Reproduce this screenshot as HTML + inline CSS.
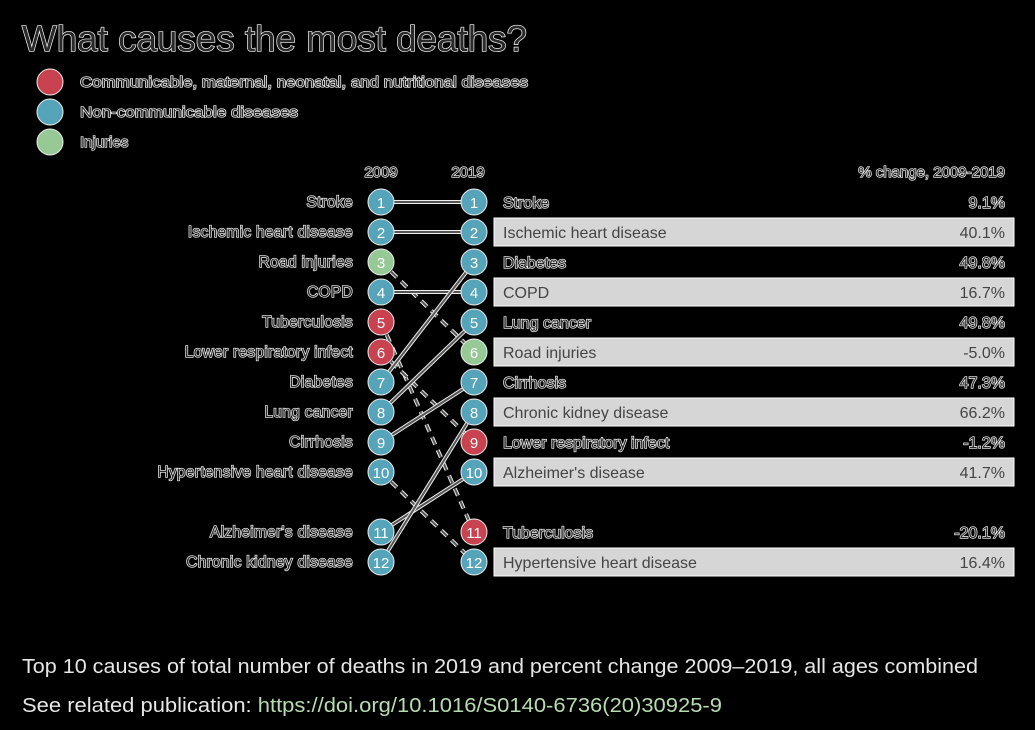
<!DOCTYPE html>
<html><head><meta charset="utf-8"><style>
html,body{margin:0;padding:0;background:#000;width:1035px;height:730px;overflow:hidden}
svg{display:block;font-family:"Liberation Sans",sans-serif}
.o{fill:#2a2a2a;stroke:#fff;stroke-width:1.3px;paint-order:stroke}
</style></head><body>
<svg id="c" width="1035" height="730" viewBox="0 0 1035 730">
<text class="o" x="22" y="51" font-size="36" stroke-width="1.6" textLength="505" lengthAdjust="spacingAndGlyphs">What causes the most deaths?</text>
<g>
<circle cx="50" cy="82" r="13" fill="#c8434f" stroke="#eee"/>
<text class="o" x="80" y="87" font-size="15" textLength="448" lengthAdjust="spacingAndGlyphs">Communicable, maternal, neonatal, and nutritional diseases</text>
<circle cx="50" cy="112" r="13" fill="#56a4ba" stroke="#eee"/>
<text class="o" x="80" y="117" font-size="15" textLength="218" lengthAdjust="spacingAndGlyphs">Non-communicable diseases</text>
<circle cx="50" cy="142" r="13" fill="#97c996" stroke="#eee"/>
<text class="o" x="80" y="147" font-size="15">Injuries</text>
</g>
<text class="o" x="381" y="177" font-size="15" text-anchor="middle">2009</text>
<text class="o" x="468" y="177" font-size="15" text-anchor="middle">2019</text>
<text class="o" x="1005" y="177" font-size="15" text-anchor="end">% change, 2009-2019</text>
<g id="marks"></g>
<text x="22" y="673" font-size="20" fill="#e6e6e6" textLength="956" lengthAdjust="spacingAndGlyphs">Top 10 causes of total number of deaths in 2019 and percent change 2009–2019, all ages combined</text>
<text x="22" y="712" font-size="20" fill="#e6e6e6" textLength="700" lengthAdjust="spacingAndGlyphs">See related publication: <tspan fill="#b7dcb0">https://doi.org/10.1016/S0140-6736(20)30925-9</tspan></text>
</svg>
<script>
const causes2009 = ["Stroke","Ischemic heart disease","Road injuries","COPD","Tuberculosis","Lower respiratory infect","Diabetes","Lung cancer","Cirrhosis","Hypertensive heart disease","Alzheimer's disease","Chronic kidney disease"];
const groups2009 = ["n","n","i","n","c","c","n","n","n","n","n","n"];
const rank2019 = [1,2,6,4,11,9,3,5,7,12,10,8];
const causes2019 = ["Stroke","Ischemic heart disease","Diabetes","COPD","Lung cancer","Road injuries","Cirrhosis","Chronic kidney disease","Lower respiratory infect","Alzheimer's disease","Tuberculosis","Hypertensive heart disease"];
const groups2019 = ["n","n","n","n","n","i","n","n","c","n","c","n"];
const pctChange = ["9.1%","40.1%","49.8%","16.7%","49.8%","-5.0%","47.3%","66.2%","-1.2%","41.7%","-20.1%","16.4%"];
const colors = {c:"#c8434f", n:"#56a4ba", i:"#97c996"};
const NS = "http://www.w3.org/2000/svg";
const g = document.getElementById('marks');
function yRank(r){ return r <= 10 ? 202 + (r-1)*30 : 532 + (r-11)*30; }
const x09 = 381, x19 = 474;
function el(t, a){ const e = document.createElementNS(NS, t); for (const k in a) e.setAttribute(k, a[k]); g.appendChild(e); return e; }
causes2019.forEach((c, i) => {
  const y = yRank(i+1);
  if (i % 2 === 1) {
    const b = el('rect', {x:494, y:y-14, width:520, height:28, fill:'#d6d6d6', stroke:'#fff'});
    
    
  }
});
causes2009.forEach((c, i) => {
  const r2 = rank2019[i], y1 = yRank(i+1), y2 = yRank(r2);
  const dash = r2 > i+1 ? '8 6' : null;
  const w = el('line', {x1:x09, y1:y1, x2:x19, y2:y2, stroke:'#eee', 'stroke-width':4});
  if (dash) w.setAttribute('stroke-dasharray', dash);
  
  
  const l = el('line', {x1:x09, y1:y1, x2:x19, y2:y2, stroke:'#555', 'stroke-width':2});
  if (dash) l.setAttribute('stroke-dasharray', dash);
  
  
});
causes2009.forEach((c, i) => {
  const y = yRank(i+1);
  const t = el('text', {x:353, y:y+5, 'font-size':15.5, 'text-anchor':'end', class:'o', 'letter-spacing':'0.3'});
  t.textContent = c;
  
  
  const ci = el('circle', {cx:x09, cy:y, r:13, fill:colors[groups2009[i]], stroke:'#eee', 'stroke-width':1});
  
  
  const n = el('text', {x:x09, y:y+6, 'font-size':15, 'text-anchor':'middle', fill:'#fff'});
  n.textContent = i+1;
  
  
});
causes2019.forEach((c, i) => {
  const y = yRank(i+1);
  const ci = el('circle', {cx:x19, cy:y, r:13, fill:colors[groups2019[i]], stroke:'#eee', 'stroke-width':1});
  
  
  const n = el('text', {x:x19, y:y+6, 'font-size':15, 'text-anchor':'middle', fill:'#fff'});
  n.textContent = i+1;
  
  
  const boxed = i % 2 === 1;
  const t = el('text', {x:503, y:y+6, 'font-size':16});
  if (boxed) t.setAttribute('fill', '#444'); else t.setAttribute('class', 'o');
  t.textContent = c;
  
  
  const p = el('text', {x:1005, y:y+6, 'font-size':16, 'text-anchor':'end'});
  if (boxed) p.setAttribute('fill', '#444'); else p.setAttribute('class', 'o');
  p.textContent = pctChange[i];
  
  
});
</script>
</body></html>
